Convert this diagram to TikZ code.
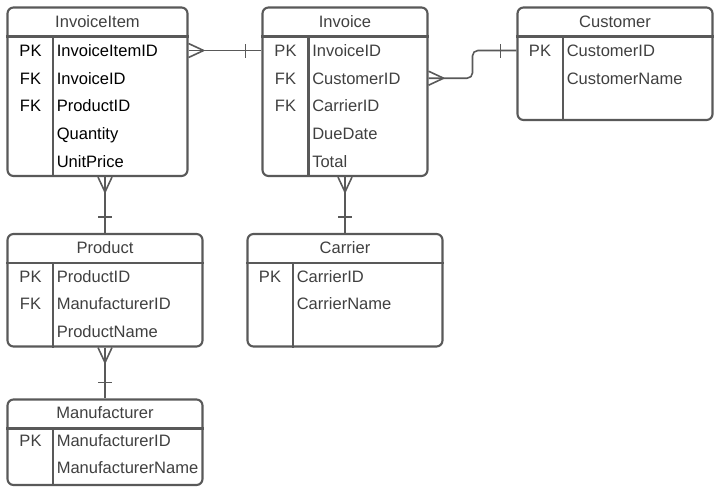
\documentclass[tikz,border=0pt]{standalone}
\usepackage{fontspec}
\setmainfont{Liberation Sans}
\usepackage{tikz}
\usetikzlibrary{calc, fit}

\definecolor{erline}{HTML}{595959}
\definecolor{ertext}{HTML}{404040}

\begin{document}
\begin{tikzpicture}[x=0.75pt, y=-0.75pt, line join=round,
  tbl/.style={draw=erline, line width=1.6pt, rounded corners=4.5pt, inner sep=0pt},
  sep/.style={draw=erline, line width=1.6pt},
  rel/.style={draw=erline, line width=1.2pt},
  txt/.style={text=ertext, inner sep=0pt, text height=8.9pt, text depth=0pt,
    font=\fontsize{12.4}{14}\selectfont},
  fld/.style={txt, anchor=west},
  pics/crowfoot/.style={code={\draw[rel] (0,-7) -- (15,0) -- (0,7);}},
  pics/onebar/.style={code={\draw[rel] (16,-7) -- (16,7);}}]
  \useasboundingbox (0,0) rectangle (723,493);

  % Table frames
  \node[tbl, fit={(7.5,7.5) (187.5,176)}] (ii) {};
  \node[tbl, fit={(262.5,7.5) (427.5,176)}] (inv) {};
  \node[tbl, fit={(517.5,7.5) (712.5,120)}] (cus) {};
  \node[tbl, fit={(7.5,234) (202.5,346.5)}] (pro) {};
  \node[tbl, fit={(247.5,234) (442.5,346.5)}] (car) {};
  \node[tbl, fit={(7.5,399.5) (202.5,485)}] (man) {};

  % Header lines and key dividers
  \draw[sep] (ii.west |- 0,36.5) -- (ii.east |- 0,36.5);
  \draw[sep] (53,36.5) -- (53,176 |- ii.south);
  \draw[sep] (inv.west |- 0,36.5) -- (inv.east |- 0,36.5);
  \draw[sep] (308.5,36.5) -- (308.5,176 |- inv.south);
  \draw[sep] (cus.west |- 0,36.5) -- (cus.east |- 0,36.5);
  \draw[sep] (563,36.5) -- (563,120 |- cus.south);
  \draw[sep] (pro.west |- 0,263) -- (pro.east |- 0,263);
  \draw[sep] (53,263) -- (53,346 |- pro.south);
  \draw[sep] (car.west |- 0,263) -- (car.east |- 0,263);
  \draw[sep] (293,263) -- (293,346 |- car.south);
  \draw[sep] (man.west |- 0,428.5) -- (man.east |- 0,428.5);
  \draw[sep] (53,428.5) -- (53,485 |- man.south);

  % InvoiceItem
  \node[txt] (ii-t) at (ii.north |- 0,21.5) {InvoiceItem};
  \node[txt, text=black] (ii-k1) at (30.5,50.5) {PK};
  \node[txt, text=black] (ii-k2) at (30.5,78.2) {FK};
  \node[txt, text=black] (ii-k3) at (30.5,105.9) {FK};
  \node[fld, text=black] (ii-f1) at (56.5,50.5) {InvoiceItemID};
  \node[fld, text=black] (ii-f2) at (56.5,78.2) {InvoiceID};
  \node[fld, text=black] (ii-f3) at (56.5,105.9) {ProductID};
  \node[fld, text=black] (ii-f4) at (56.5,133.6) {Quantity};
  \node[fld, text=black] (ii-f5) at (56.5,161.3) {UnitPrice};

  % Invoice
  \node[txt] (inv-t) at (inv.north |- 0,21.5) {Invoice};
  \node[txt] (inv-k1) at (285.5,50.5) {PK};
  \node[txt] (inv-k2) at (285.5,78.2) {FK};
  \node[txt] (inv-k3) at (285.5,105.9) {FK};
  \node[fld] (inv-f1) at (312,50.5) {InvoiceID};
  \node[fld] (inv-f2) at (312,78.2) {CustomerID};
  \node[fld] (inv-f3) at (312,105.9) {CarrierID};
  \node[fld] (inv-f4) at (312,133.6) {DueDate};
  \node[fld] (inv-f5) at (312,161.3) {Total};

  % Customer
  \node[txt] (cus-t) at (cus.north |- 0,21.5) {Customer};
  \node[txt] (cus-k1) at (540,50.5) {PK};
  \node[fld] (cus-f1) at (566.5,50.5) {CustomerID};
  \node[fld] (cus-f2) at (566.5,78.2) {CustomerName};

  % Product
  \node[txt] (pro-t) at (pro.north |- 0,248) {Product};
  \node[txt] (pro-k1) at (30.5,276.5) {PK};
  \node[txt] (pro-k2) at (30.5,304) {FK};
  \node[fld] (pro-f1) at (56.5,276.5) {ProductID};
  \node[fld] (pro-f2) at (56.5,304) {ManufacturerID};
  \node[fld] (pro-f3) at (56.5,331.5) {ProductName};

  % Carrier
  \node[txt] (car-t) at (car.north |- 0,248) {Carrier};
  \node[txt] (car-k1) at (270,276.5) {PK};
  \node[fld] (car-f1) at (296.5,276.5) {CarrierID};
  \node[fld] (car-f2) at (296.5,304) {CarrierName};

  % Manufacturer
  \node[txt] (man-t) at (man.north |- 0,413) {Manufacturer};
  \node[txt] (man-k1) at (30.5,440.5) {PK};
  \node[fld] (man-f1) at (56.5,440.5) {ManufacturerID};
  \node[fld] (man-f2) at (56.5,468) {ManufacturerName};

  % Relationships
  \draw[rel] (ii.east |- ii-f1) -- (inv.west |- inv-f1);
  \pic at (ii.east |- ii-f1) {crowfoot};
  \pic[rotate=180] at (inv.west |- inv-f1) {onebar};

  \draw[rel, rounded corners=4pt] (inv.east |- inv-f2)
    -| ($(inv.east |- cus-f1)!0.5!(cus.west |- cus-f1)$) -- (cus.west |- cus-f1);
  \pic at (inv.east |- inv-f2) {crowfoot};
  \pic[rotate=180] at (cus.west |- cus-f1) {onebar};

  \draw[rel] (pro.north |- ii.south) -- (pro.north);
  \pic[rotate=-90] at (pro.north |- ii.south) {crowfoot};
  \pic[rotate=90] at (pro.north) {onebar};

  \draw[rel] (inv.south) -- (car.north);
  \pic[rotate=-90] at (inv.south) {crowfoot};
  \pic[rotate=90] at (car.north) {onebar};

  \draw[rel] (pro.south) -- (man.north);
  \pic[rotate=-90] at (pro.south) {crowfoot};
  \pic[rotate=90] at (man.north) {onebar};
\end{tikzpicture}
\end{document}
